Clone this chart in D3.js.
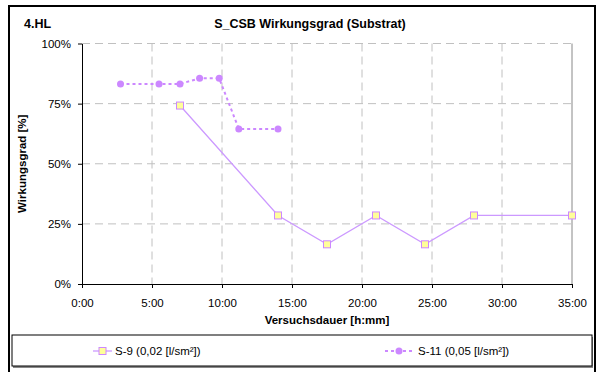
<!DOCTYPE html>
<html><head><meta charset="utf-8">
<script src="https://cdn.jsdelivr.net/npm/d3@7"></script>
<style>body{margin:0;background:#fff}svg{display:block;font-family:Arial,"Liberation Sans",sans-serif}</style>
</head><body><svg id="c" width="598" height="372"></svg>
<script>
const xTicks = [0,5,10,15,20,25,30,35];
const xTickLabels = ["0:00","5:00","10:00","15:00","20:00","25:00","30:00","35:00"];
const yTicks = [0,25,50,75,100];
const s9Hours = [7.0,14.0,17.5,21.0,24.5,28.0,35.0];
const s9Values = [74.2,28.5,16.5,28.5,16.5,28.5,28.5];
const s11Hours = [2.75,5.5,7.0,8.4,9.8,11.2,14.0];
const s11Values = [83.2,83.2,83.2,85.5,85.5,64.5,64.5];
const seriesNames = ["S-9 (0,02 [l/sm²])","S-11 (0,05 [l/sm²])"];

const svg = d3.select("#c");
const L=82, R=572, T=43.5, B=284;
const x = d3.scaleLinear().domain([0,35]).range([L,R]);
const y = d3.scaleLinear().domain([0,100]).range([B,T]);

svg.append("rect").attr("x",9).attr("y",6).attr("width",586).attr("height",380)
  .attr("fill","none").attr("stroke","#000").attr("stroke-width",2);

const g = svg.append("g");
g.selectAll(".gy").data(yTicks.filter(d=>d>0)).join("line")
  .attr("x1",L).attr("x2",R).attr("y1",d=>y(d)).attr("y2",d=>y(d))
  .attr("stroke","#c0c0c0").attr("stroke-dasharray","8,5");
g.selectAll(".gx").data(xTicks.filter(d=>d>0&&d<35)).join("line")
  .attr("x1",d=>x(d)).attr("x2",d=>x(d)).attr("y1",T).attr("y2",B)
  .attr("stroke","#c0c0c0").attr("stroke-dasharray","8,5");
svg.append("line").attr("x1",R).attr("x2",R).attr("y1",T).attr("y2",B).attr("stroke","#888");

const xa = svg.append("g").attr("transform",`translate(0,${B})`)
  .call(d3.axisBottom(x).tickValues(xTicks).tickFormat((d,i)=>xTickLabels[i]).tickSize(4).tickSizeOuter(0).tickPadding(11));
const ya = svg.append("g").attr("transform",`translate(${L},0)`)
  .call(d3.axisLeft(y).tickValues(yTicks).tickFormat(d=>d+"%").tickSize(4).tickSizeOuter(0).tickPadding(7));
[xa,ya].forEach(a=>{a.select(".domain").attr("stroke","#000");a.selectAll("line").attr("stroke","#000");
  a.selectAll("text").attr("font-size",11.5).attr("fill","#000").attr("font-family","Arial,'Liberation Sans',sans-serif");});

svg.append("text").attr("x",24).attr("y",28).attr("font-size",12.5).attr("font-weight","bold").text("4.HL");
svg.append("text").attr("x",310).attr("y",28).attr("text-anchor","middle").attr("font-size",12.5).attr("font-weight","bold").text("S_CSB Wirkungsgrad (Substrat)");
svg.append("text").attr("x",(L+R)/2).attr("y",324).attr("text-anchor","middle").attr("font-size",11.5).attr("font-weight","bold").text("Versuchsdauer [h:mm]");
svg.append("text").attr("transform",`translate(26,${(T+B)/2}) rotate(-90)`).attr("text-anchor","middle").attr("font-size",11.5).attr("font-weight","bold").text("Wirkungsgrad [%]");

const line = d3.line().x(d=>x(d[0])).y(d=>y(d[1]));
const s9 = s9Hours.map((h,i)=>[h,s9Values[i]]);
const s11 = s11Hours.map((h,i)=>[h,s11Values[i]]);

svg.append("path").attr("d",line(s11)).attr("fill","none").attr("stroke","#cc88ff").attr("stroke-width",2).attr("stroke-dasharray","3,3");
svg.selectAll(".p11").data(s11).join("circle").attr("cx",d=>x(d[0])).attr("cy",d=>y(d[1])).attr("r",3.5).attr("fill","#cc88ff");

svg.append("path").attr("d",line(s9)).attr("fill","none").attr("stroke","#cc99ff").attr("stroke-width",1.3);
svg.selectAll(".p9").data(s9).join("rect").attr("x",d=>x(d[0])-3.5).attr("y",d=>y(d[1])-3.5).attr("width",7).attr("height",7)
  .attr("fill","#ffff99").attr("stroke","#cc88ff").attr("stroke-width",1);

svg.append("rect").attr("x",13).attr("y",337).attr("width",580).attr("height",31).attr("fill","#888");
svg.append("rect").attr("x",12).attr("y",335).attr("width",580).attr("height",31).attr("fill","#fff").attr("stroke","#000").attr("stroke-width",1);
const ly = 351;
svg.append("line").attr("x1",93).attr("x2",112).attr("y1",ly).attr("y2",ly).attr("stroke","#cc99ff").attr("stroke-width",1.3);
svg.append("rect").attr("x",99).attr("y",ly-3.5).attr("width",7).attr("height",7).attr("fill","#ffff99").attr("stroke","#cc88ff");
svg.append("text").attr("x",115).attr("y",ly+4).attr("font-size",11.5).text(seriesNames[0]);
svg.append("line").attr("x1",385).attr("x2",414).attr("y1",ly).attr("y2",ly).attr("stroke","#cc88ff").attr("stroke-width",2).attr("stroke-dasharray","3,3");
svg.append("circle").attr("cx",399).attr("cy",ly).attr("r",3.5).attr("fill","#cc88ff");
svg.append("text").attr("x",418).attr("y",ly+4).attr("font-size",11.5).text(seriesNames[1]);
</script></body></html>
